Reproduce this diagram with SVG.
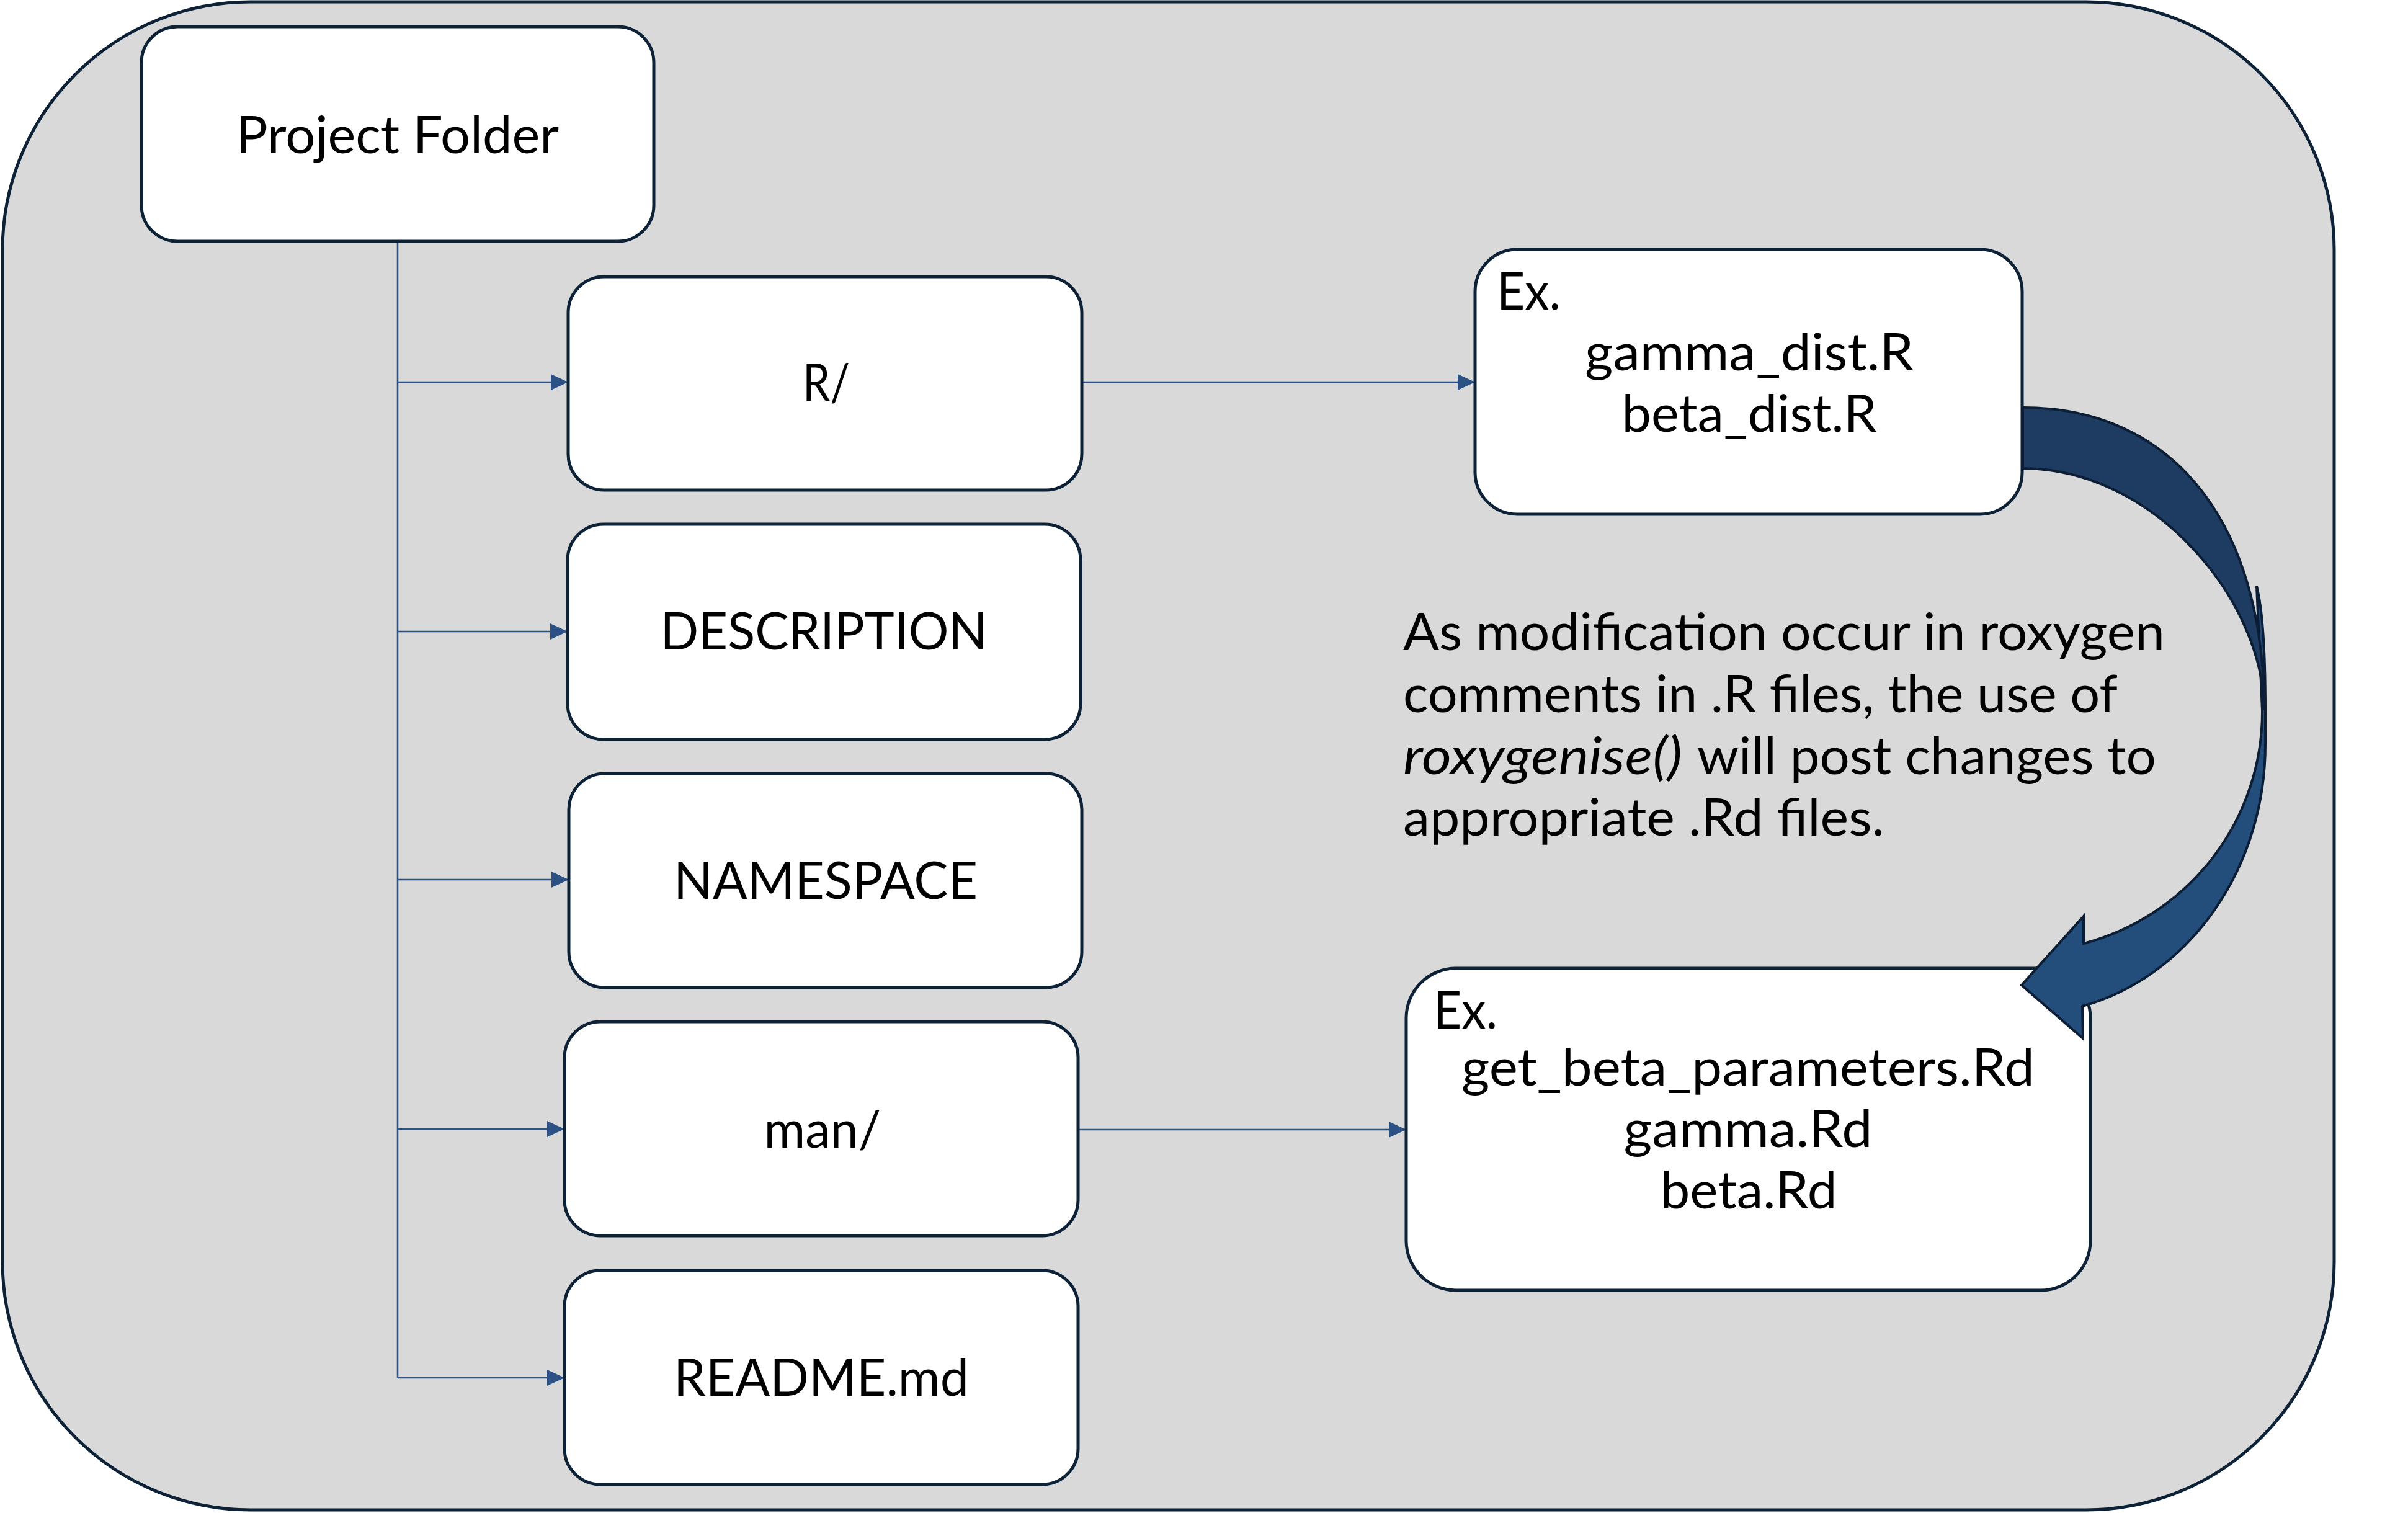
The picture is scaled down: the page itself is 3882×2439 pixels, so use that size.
<svg xmlns="http://www.w3.org/2000/svg" width="3882" height="2439" viewBox="0 0 3882 2439">
  <style>
    .frame { fill: #d9d9d9; stroke: #0d2137; stroke-width: 5; }
    .box { fill: #ffffff; stroke: #0d2137; stroke-width: 5; }
    .lbl { font-family: "Lato", "Noto Sans", sans-serif; font-size: 84px; fill: #000000; }
    .mid { text-anchor: middle; }
    .conn { fill: none; stroke: #2b5185; stroke-width: 2.5; }
    .back { fill: #1e3b62; stroke: #0b1e35; stroke-width: 4; stroke-linejoin: miter; }
    .front { fill: #234d7b; stroke: #0b1e35; stroke-width: 4; stroke-linejoin: miter; }
  </style>
  <defs>
    <marker id="ah" viewBox="0 0 28 26" refX="28" refY="13" markerWidth="28" markerHeight="26" markerUnits="userSpaceOnUse" orient="auto">
      <path d="M0 0 L28 13 L0 26 Z" fill="#2b5185"/>
    </marker>
  </defs>

  <rect id="container" class="frame" x="4" y="3" width="3759" height="2431" rx="400" ry="400"/>

  <g id="connectors">
    <line class="conn" x1="641" y1="389" x2="641" y2="2221"/>
    <line class="conn" x1="641" y1="616" x2="916" y2="616" marker-end="url(#ah)"/>
    <line class="conn" x1="641" y1="1018" x2="915" y2="1018" marker-end="url(#ah)"/>
    <line class="conn" x1="641" y1="1418" x2="917" y2="1418" marker-end="url(#ah)"/>
    <line class="conn" x1="641" y1="1820" x2="910" y2="1820" marker-end="url(#ah)"/>
    <line class="conn" x1="641" y1="2221" x2="910" y2="2221" marker-end="url(#ah)"/>
    <line class="conn" x1="1744" y1="616" x2="2378" y2="616" marker-end="url(#ah)"/>
    <line class="conn" x1="1738" y1="1821" x2="2267" y2="1821" marker-end="url(#ah)"/>
  </g>

  <g id="project-folder">
    <rect class="box" x="228" y="43" width="826" height="346" rx="58" ry="58"/>
    <text class="lbl mid" x="641" y="247" textLength="520" lengthAdjust="spacingAndGlyphs">Project Folder</text>
  </g>

  <g id="r-dir">
    <rect class="box" x="916" y="446" width="828" height="344" rx="58" ry="58"/>
    <text class="lbl mid" x="1332" y="646" textLength="76" lengthAdjust="spacingAndGlyphs">R/</text>
  </g>

  <g id="description">
    <rect class="box" x="915" y="845" width="827" height="347" rx="58" ry="58"/>
    <text class="lbl mid" x="1328" y="1047" textLength="527" lengthAdjust="spacingAndGlyphs">DESCRIPTION</text>
  </g>

  <g id="namespace">
    <rect class="box" x="917" y="1247" width="827" height="345" rx="58" ry="58"/>
    <text class="lbl mid" x="1331" y="1449" textLength="490" lengthAdjust="spacingAndGlyphs">NAMESPACE</text>
  </g>

  <g id="man-dir">
    <rect class="box" x="910" y="1647" width="828" height="345" rx="58" ry="58"/>
    <text class="lbl mid" x="1326" y="1850" textLength="189" lengthAdjust="spacingAndGlyphs">man/</text>
  </g>

  <g id="readme">
    <rect class="box" x="910" y="2048" width="828" height="345" rx="58" ry="58"/>
    <text class="lbl mid" x="1324" y="2250" textLength="476" lengthAdjust="spacingAndGlyphs">README.md</text>
  </g>

  <g id="r-files">
    <rect class="box" x="2378" y="402" width="882" height="427" rx="68" ry="68"/>
    <text class="lbl" x="2413" y="499" textLength="103" lengthAdjust="spacingAndGlyphs">Ex.</text>
    <text class="lbl mid" x="2820" y="597" textLength="530" lengthAdjust="spacingAndGlyphs">gamma_dist.R</text>
    <text class="lbl mid" x="2820" y="696" textLength="411" lengthAdjust="spacingAndGlyphs">beta_dist.R</text>
  </g>

  <g id="rd-files">
    <rect class="box" x="2267" y="1561" width="1103" height="519" rx="80" ry="80"/>
    <text class="lbl" x="2311" y="1658" textLength="103" lengthAdjust="spacingAndGlyphs">Ex.</text>
    <text class="lbl mid" x="2818" y="1750" textLength="924" lengthAdjust="spacingAndGlyphs">get_beta_parameters.Rd</text>
    <text class="lbl mid" x="2818" y="1849" textLength="401" lengthAdjust="spacingAndGlyphs">gamma.Rd</text>
    <text class="lbl mid" x="2819" y="1948" textLength="285" lengthAdjust="spacingAndGlyphs">beta.Rd</text>
  </g>

  <g id="note">
    <text class="lbl" x="2262" y="1048" textLength="1228" lengthAdjust="spacingAndGlyphs">As modification occur in roxygen</text>
    <text class="lbl" x="2262" y="1148" textLength="1152" lengthAdjust="spacingAndGlyphs">comments in .R files, the use of</text>
    <text class="lbl" y="1248"><tspan x="2262" font-style="italic" textLength="450" lengthAdjust="spacingAndGlyphs">roxygenise()</tspan><tspan x="2736" textLength="740" lengthAdjust="spacingAndGlyphs">will post changes to</tspan></text>
    <text class="lbl" x="2262" y="1347" textLength="776" lengthAdjust="spacingAndGlyphs">appropriate .Rd files.</text>
  </g>

  <g id="curved-arrow">
    <path class="front" d="M3638 945 Q3652 1000 3652 1145 L3652 1200 A390 435 0 0 1 3357 1622 L3358 1674 L3259 1588 L3359 1477 L3359 1521 A386 386 0 0 0 3647 1145 Z"/>
    <path class="back" d="M3261 657 C3503 657 3650 842 3650 1145 C3650 970 3474 755 3261 755 Z"/>
  </g>
</svg>
